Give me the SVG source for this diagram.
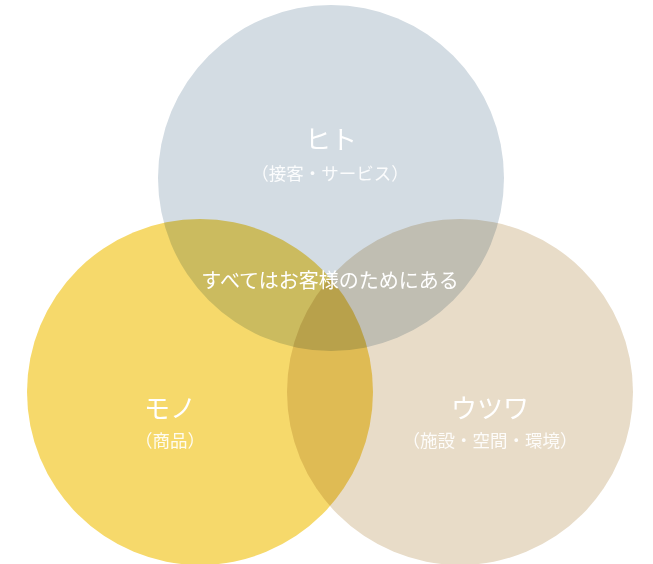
<svg xmlns="http://www.w3.org/2000/svg" width="653" height="564" viewBox="0 0 653 564">
<style>
.c{mix-blend-mode:multiply}
.t{font-family:"Noto Sans CJK JP","Noto Sans",sans-serif;fill:#ffffff;text-anchor:middle}
.big{font-size:26px}
.sub{font-size:17.5px;fill-opacity:0.9}
.mid{font-size:20px}
</style>
<rect width="653" height="564" fill="#ffffff"/>
<g id="hito">
<circle class="c" cx="331" cy="178" r="173" fill="#d3dce3"/>
</g>
<g id="mono">
<circle class="c" cx="200" cy="392" r="173" fill="#f6d96b"/>
</g>
<g id="utsuwa">
<circle class="c" cx="460" cy="392" r="173" fill="#e8dcc8"/>
</g>
<g id="labels">
<text class="t big" x="331" y="149">ヒト</text>
<text class="t sub" x="330" y="180">（接客・サービス）</text>
<text class="t mid" x="330" y="288">すべてはお客様のためにある</text>
<text class="t big" x="170" y="418">モノ</text>
<text class="t sub" x="170" y="447">（商品）</text>
<text class="t big" x="490" y="418">ウツワ</text>
<text class="t sub" x="490" y="447">（施設・空間・環境）</text>
</g>
<g id="connectors"></g>
</svg>
